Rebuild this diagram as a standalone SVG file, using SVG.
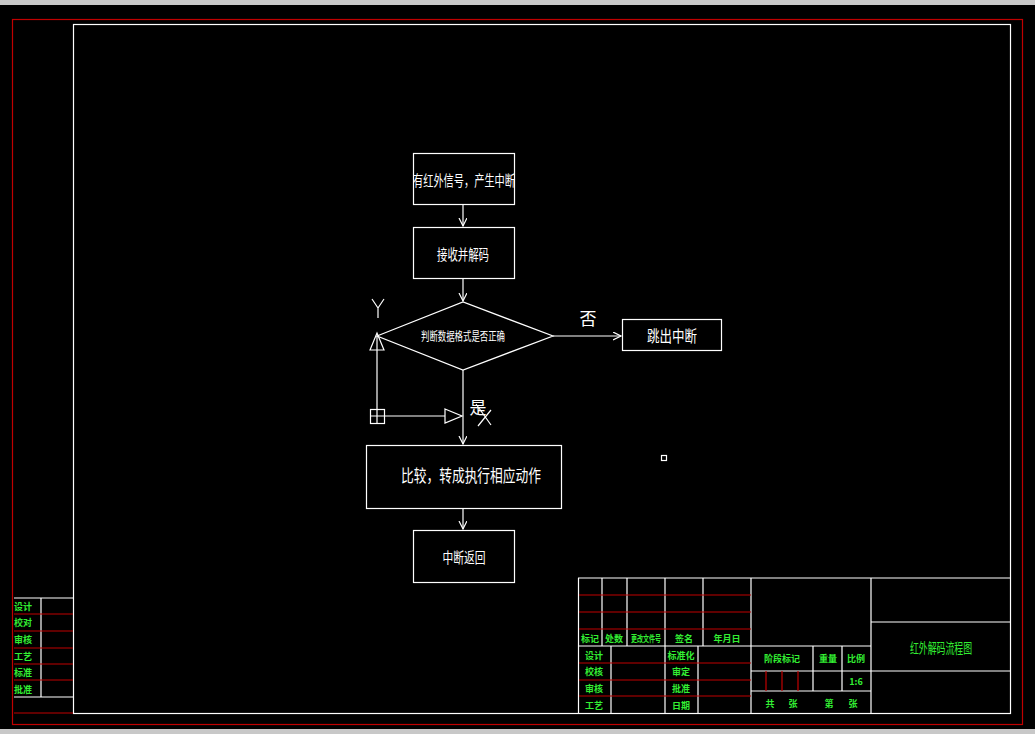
<svg xmlns="http://www.w3.org/2000/svg" width="1035" height="734" viewBox="0 0 1035 734">
<defs>
<style>
.w{stroke:#fff;stroke-width:1.2;fill:none}
.r{stroke:#c00000;stroke-width:1.2;fill:none}
.t{fill:#fff;font-family:"Noto Sans CJK SC","Liberation Sans",sans-serif;text-anchor:middle;dominant-baseline:central}
.g{fill:#33ee33;font-family:"Noto Sans CJK SC","Liberation Sans",sans-serif;font-size:9px;font-weight:bold;text-anchor:middle;dominant-baseline:central}
</style>
<marker id="a" markerWidth="10" markerHeight="10" refX="8" refY="4" orient="auto" markerUnits="userSpaceOnUse"><path d="M0,0 L8,4 L0,8" class="w"/></marker>
</defs>
<rect width="1035" height="734" fill="#000"/>
<rect x="0" y="0" width="1035" height="5" fill="#c8c8c8"/>
<rect x="0" y="729" width="1035" height="5" fill="#c8c8c8"/>
<rect x="12.5" y="19.5" width="1010" height="705" class="r"/>
<rect x="73.5" y="24.5" width="937" height="689" class="w"/>
<g id="left-block">
<path class="w" d="M14,598H73M41,598V697M14,697H73"/>
<path class="r" d="M14,614H73M14,631H73M14,648H73M14,664H73M14,680H73M14,713H73"/>
<text class="g" x="23" y="606">设计</text><text class="g" x="23" y="622">校对</text><text class="g" x="23" y="639">审核</text><text class="g" x="23" y="656">工艺</text><text class="g" x="23" y="672">标准</text><text class="g" x="23" y="689">批准</text>
</g>
<g id="title-block">
<path class="w" d="M578.5,578V713M578,578H1010M602,578V646M627,578V646M665,578V713M703,578V646M751,578V713M578,646H871M611,646V713M698,646V713M871,578V713M751,671H1010M751,691H871M813,646V691M842,646V691M871,622H1010"/>
<path class="r" d="M579,595H751M579,612H751M579,629H751M579,663H751M579,680H751M579,696H751M766,671V691M782,671V691M798,671V691"/>
<text class="g" x="590" y="638">标记</text><text class="g" x="614" y="638">处数</text><text class="g" x="646" y="638" textLength="30" lengthAdjust="spacingAndGlyphs">更改文件号</text><text class="g" x="684" y="638">签名</text><text class="g" x="727" y="638">年月日</text>
<text class="g" x="594" y="655">设计</text><text class="g" x="594" y="671">校核</text><text class="g" x="594" y="688">审核</text><text class="g" x="594" y="705">工艺</text>
<text class="g" x="681" y="655">标准化</text><text class="g" x="681" y="671">审定</text><text class="g" x="681" y="688">批准</text><text class="g" x="681" y="705">日期</text>
<text class="g" x="782" y="658">阶段标记</text><text class="g" x="828" y="658">重量</text><text class="g" x="856" y="658">比例</text><text class="g" x="856" y="681">1:6</text>
<text class="g" x="770" y="703">共</text><text class="g" x="793" y="703">张</text><text class="g" x="829" y="703">第</text><text class="g" x="853" y="703">张</text>
<text class="g" x="941" y="647" style="font-size:14px;font-weight:normal" textLength="62" lengthAdjust="spacingAndGlyphs">红外解码流程图</text>
</g>
<g id="connectors">
<path class="w" d="M463,204V226" marker-end="url(#a)"/>
<path class="w" d="M463,278V301" marker-end="url(#a)"/>
<path class="w" d="M553,336H621" marker-end="url(#a)"/>
<path class="w" d="M463,370V444" marker-end="url(#a)"/>
<path class="w" d="M463,508V529" marker-end="url(#a)"/>
</g>
<g id="n1"><rect x="413.5" y="153.5" width="101" height="51" class="w"/><text class="t" x="464" y="179" font-size="15" textLength="102" lengthAdjust="spacingAndGlyphs">有红外信号，产生中断</text></g>
<g id="n2"><rect x="413.5" y="227.5" width="101" height="51" class="w"/><text class="t" x="463" y="253" font-size="15" textLength="52" lengthAdjust="spacingAndGlyphs">接收并解码</text></g>
<g id="n3"><path d="M377,336L463,302L553,336L463,370Z" class="w"/><text class="t" x="463" y="335" font-size="12" textLength="84" lengthAdjust="spacingAndGlyphs">判断数据格式是否正确</text></g>
<g id="n4"><rect x="622.5" y="319.5" width="99" height="31" class="w"/><text class="t" x="672" y="335" font-size="16" textLength="50" lengthAdjust="spacingAndGlyphs">跳出中断</text></g>
<g id="n5"><rect x="366.5" y="445.5" width="195" height="63" class="w"/><text class="t" x="471" y="474" font-size="17" textLength="140" lengthAdjust="spacingAndGlyphs">比较，转成执行相应动作</text></g>
<g id="n6"><rect x="413.5" y="530.5" width="101" height="52" class="w"/><text class="t" x="464" y="556" font-size="15" textLength="43" lengthAdjust="spacingAndGlyphs">中断返回</text></g>
<text class="t" x="588" y="317" font-size="17">否</text>
<text class="t" x="478" y="406" font-size="17">是</text>
<path class="w" d="M476,404L491,425M491,410L478,426"/>
<g id="ucs">
<path class="w" d="M377,336V409M384,416H445"/>
<rect x="370.5" y="409.5" width="14" height="14" class="w"/><path class="w" d="M377,409V423M370,416H384"/>
<path class="w" d="M370,350L377,333L384,350Z"/>
<path class="w" d="M445,409L462,416L445,423Z"/>
<path class="w" d="M372,299L378,308L384,299M378,308V318"/>
</g>
<rect x="661.5" y="455.5" width="5" height="5" class="w"/>
</svg>
